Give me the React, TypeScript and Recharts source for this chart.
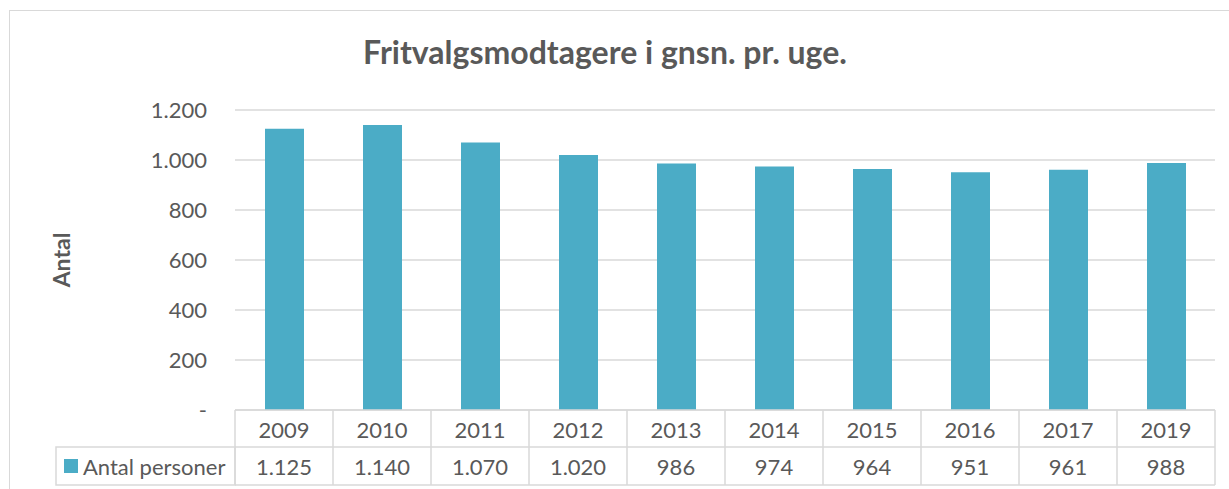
import React from "react";
import { BarChart, Bar, XAxis, YAxis, CartesianGrid } from "recharts";

const years = ["2009", "2010", "2011", "2012", "2013", "2014", "2015", "2016", "2017", "2019"];
const antalPersoner = [1125, 1140, 1070, 1020, 986, 974, 964, 951, 961, 988];
const yTicks = [0, 200, 400, 600, 800, 1000, 1200];
const seriesName = "Antal personer";

const data = years.map((year, i) => ({ year, value: antalPersoner[i] }));

const FONT = "Lato, 'Open Sans', sans-serif";
const TEXT = "#595959";
const GRID = "#d9d9d9";
const BAR = "#4bacc6";

const CHART_W = 1240;
const CHART_H = 500;
const LEFT = 225; // yaxis width
const RIGHT = 35;
const BAND = (CHART_W - LEFT - RIGHT) / years.length;
const ROW1 = 37;
const ROW2 = 38;

// 1200 -> "1.200", 0 -> "-"
function fmt(v: number) {
    if (v === 0) return "-";
    return String(v).replace(/\B(?=(\d{3})+(?!\d))/g, ".");
}

function TableTick(props: any) {
    const { x, y, payload, index } = props;
    const i = index ?? payload.index;
    const l = x - BAND / 2;
    const r = x + BAND / 2;
    return (
        <g>
            <line x1={l} y1={y} x2={l} y2={y + ROW1 + ROW2} stroke={GRID} strokeWidth={1.5} />
            {i === years.length - 1 && (
                <line x1={r} y1={y} x2={r} y2={y + ROW1 + ROW2} stroke={GRID} strokeWidth={1.5} />
            )}
            <line x1={l} y1={y + ROW1} x2={r} y2={y + ROW1} stroke={GRID} strokeWidth={1.5} />
            <line x1={l} y1={y + ROW1 + ROW2} x2={r} y2={y + ROW1 + ROW2} stroke={GRID} strokeWidth={1.5} />
            <text x={x} y={y + 28} textAnchor="middle" fill={TEXT} fontSize={22} fontFamily={FONT}>
                {payload.value}
            </text>
            <text x={x} y={y + ROW1 + 28} textAnchor="middle" fill={TEXT} fontSize={22} fontFamily={FONT}>
                {fmt(antalPersoner[i])}
            </text>
            {i === 0 && (
                <g>
                    <rect x={l - 179} y={y + ROW1} width={179} height={ROW2} fill="none" stroke={GRID} strokeWidth={1.5} />
                    <rect x={l - 171} y={y + ROW1 + 12} width={14} height={14} fill={BAR} />
                    <text x={l - 152} y={y + ROW1 + 28} fill={TEXT} fontSize={22} fontFamily={FONT}>
                        {seriesName}
                    </text>
                </g>
            )}
        </g>
    );
}

export default function App() {
    return (
        <div style={{ position: "absolute", left: 0, top: 0, width: 1229, height: 489, overflow: "hidden", background: "#fff" }}>
            <div
                style={{
                    position: "absolute",
                    left: 9,
                    top: 10,
                    width: CHART_W,
                    height: CHART_H,
                    border: `1.5px solid ${GRID}`,
                    background: "#fff",
                }}
            >
                <div
                    style={{
                        position: "absolute",
                        left: 0,
                        top: 21,
                        width: 1190,
                        textAlign: "center",
                        fontFamily: FONT,
                        fontWeight: 700,
                        fontSize: 32,
                        lineHeight: "40px",
                        color: TEXT,
                    }}
                >
                    Fritvalgsmodtagere i gnsn. pr. uge.
                </div>
                <BarChart
                    width={CHART_W}
                    height={CHART_H}
                    data={data}
                    margin={{ top: 99, right: RIGHT, bottom: 0, left: 0 }}
                    barSize={39}
                >
                    <CartesianGrid vertical={false} stroke={GRID} strokeWidth={1.5} />
                    <XAxis
                        dataKey="year"
                        height={101}
                        axisLine={{ stroke: GRID, strokeWidth: 1.5 }}
                        tickLine={false}
                        tickSize={0}
                        tickMargin={0}
                        interval={0}
                        tick={<TableTick />}
                    />
                    <YAxis
                        width={LEFT}
                        domain={[0, 1200]}
                        ticks={yTicks}
                        tickFormatter={fmt}
                        axisLine={false}
                        tickLine={false}
                        tickMargin={22}
                        tick={{ fill: TEXT, fontSize: 22, fontFamily: FONT }}
                        label={{
                            content: () => (
                                <text
                                    x={51}
                                    y={249}
                                    transform="rotate(-90 51 249)"
                                    textAnchor="middle"
                                    dominantBaseline="central"
                                    fill={TEXT}
                                    fontSize={23}
                                    fontWeight={700}
                                    fontFamily={FONT}
                                >
                                    Antal
                                </text>
                            ),
                        }}
                    />
                    <Bar dataKey="value" name={seriesName} fill={BAR} isAnimationActive={false} />
                </BarChart>
            </div>
        </div>
    );
}
